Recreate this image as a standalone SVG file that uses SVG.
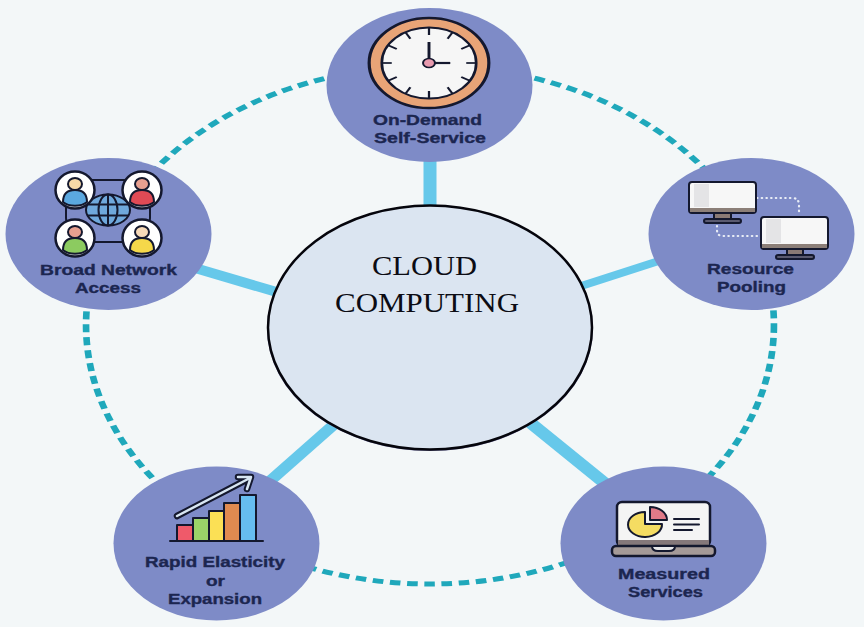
<svg xmlns="http://www.w3.org/2000/svg" width="864" height="627" viewBox="0 0 864 627">
<style>
.node{fill:#7e8bc7}
.lbl{font-family:"Liberation Sans",Arial,sans-serif;font-weight:700;font-size:14.5px;fill:#1c2650;stroke:#1c2650;stroke-width:.35px}
.ttl{font-family:"Liberation Serif","Times New Roman",serif;font-size:28px;fill:#0c0c14}
.ol{stroke:#14182e;stroke-width:2;stroke-linejoin:round;stroke-linecap:round}
.ln{fill:none;stroke:#14182e;stroke-width:2;stroke-linecap:round;stroke-linejoin:round}
.spoke{stroke:#66c8ea;fill:none}
.dots{fill:none;stroke:#e9edf6;stroke-width:2.2;stroke-linecap:round;stroke-dasharray:.5 4.2}
.scr{fill:#f7f7f7}
</style>
<defs>
<line id="tick" y1="-35" y2="-28" stroke="#14182e" stroke-width="1.7"/>
</defs>
<rect width="864" height="627" fill="#f3f7f8"/>
<g id="connectors">
<circle cx="0" cy="0" r="259" transform="translate(430 325) scale(1.328 1)" fill="none" stroke="#1fa8bb" stroke-width="5" stroke-dasharray="8 5"/>
<line class="spoke" x1="430" y1="150" x2="430" y2="215" stroke-width="13"/>
<line class="spoke" x1="195" y1="268" x2="280" y2="293" stroke-width="10"/>
<line class="spoke" x1="575" y1="288" x2="668" y2="258" stroke-width="8"/>
<line class="spoke" x1="262" y1="488" x2="338" y2="421" stroke-width="11"/>
<line class="spoke" x1="522" y1="416" x2="612" y2="489" stroke-width="12"/>
</g>
<g id="node-center">
<ellipse cx="430" cy="328.500" rx="163" ry="122.500" fill="#6f6f9f"/>
<ellipse cx="430" cy="327.500" rx="162" ry="122" fill="#dbe5f1" stroke="#05050c" stroke-width="2.500"/>
<text class="ttl" x="372" y="275" textLength="105" lengthAdjust="spacingAndGlyphs">CLOUD</text>
<text class="ttl" x="335" y="312" textLength="184" lengthAdjust="spacingAndGlyphs">COMPUTING</text>
</g>
<g id="node-on-demand">
<ellipse class="node" cx="429.500" cy="85" rx="103" ry="77"/>
<g transform="translate(429 63) scale(1.33 1)">
<circle r="45" fill="#e8a477" stroke="#14182e" stroke-width="2.400"/>
<circle r="35.500" fill="#f6f6f6" stroke="#14182e" stroke-width="2"/>
<use href="#tick"/><use href="#tick" transform="rotate(30)"/><use href="#tick" transform="rotate(60)"/><use href="#tick" transform="rotate(90)"/><use href="#tick" transform="rotate(120)"/><use href="#tick" transform="rotate(150)"/><use href="#tick" transform="rotate(180)"/><use href="#tick" transform="rotate(210)"/><use href="#tick" transform="rotate(240)"/><use href="#tick" transform="rotate(270)"/><use href="#tick" transform="rotate(300)"/><use href="#tick" transform="rotate(330)"/>
<line x1="0" y1="0" x2="0" y2="-21" stroke="#14182e" stroke-width="2.200"/>
<line x1="0" y1="0" x2="16" y2="0" stroke="#14182e" stroke-width="2.200"/>
<circle r="4.500" fill="#e89aae" stroke="#14182e" stroke-width="1.500"/>
</g>
<text class="lbl" x="373" y="125" textLength="109" lengthAdjust="spacingAndGlyphs">On-Demand</text>
<text class="lbl" x="374" y="143" textLength="112" lengthAdjust="spacingAndGlyphs">Self-Service</text>
</g>
<g id="node-broad-network">
<ellipse class="node" cx="108.500" cy="234" rx="103" ry="76"/>
<rect class="ln" x="66" y="180" width="84" height="62" rx="24"/>
<g transform="translate(108 210)">
<ellipse rx="22" ry="15.500" fill="#6fa8dc" stroke="#14182e" stroke-width="2"/>
<ellipse rx="9.500" ry="15.500" class="ln"/>
<path class="ln" d="M0-15.500V15.500M-20-5.500H20M-20 5.500H20"/>
</g>
<g transform="translate(75 190)"><ellipse rx="19.500" ry="18.500" fill="#fff" stroke="#14182e" stroke-width="2.500"/><ellipse cy="-6" rx="7" ry="6" fill="#f6d9a8" class="ol"/><path d="M-12 12C-12 3-7 0 0 0S12 3 12 12C6 17-6 17-12 12Z" fill="#5ba8e0" class="ol"/></g>
<g transform="translate(142 190)"><ellipse rx="19.500" ry="18.500" fill="#fff" stroke="#14182e" stroke-width="2.500"/><ellipse cy="-6" rx="7" ry="6" fill="#e8a090" class="ol"/><path d="M-12 12C-12 3-7 0 0 0S12 3 12 12C6 17-6 17-12 12Z" fill="#e04a55" class="ol"/></g>
<g transform="translate(75 238)"><ellipse rx="19.500" ry="18.500" fill="#fff" stroke="#14182e" stroke-width="2.500"/><ellipse cy="-6" rx="7" ry="6" fill="#e8a090" class="ol"/><path d="M-12 12C-12 3-7 0 0 0S12 3 12 12C6 17-6 17-12 12Z" fill="#8ccb60" class="ol"/></g>
<g transform="translate(142 238)"><ellipse rx="19.500" ry="18.500" fill="#fff" stroke="#14182e" stroke-width="2.500"/><ellipse cy="-6" rx="7" ry="6" fill="#f6d9b8" class="ol"/><path d="M-12 12C-12 3-7 0 0 0S12 3 12 12C6 17-6 17-12 12Z" fill="#f5d84a" class="ol"/></g>
<text class="lbl" x="40" y="275" textLength="137" lengthAdjust="spacingAndGlyphs">Broad Network</text>
<text class="lbl" x="75" y="293" textLength="66" lengthAdjust="spacingAndGlyphs">Access</text>
</g>
<g id="node-resource-pooling">
<ellipse class="node" cx="751.500" cy="234" rx="103" ry="76"/>
<path class="dots" d="M757 198H792Q799 198 799 205V215M717 226V230Q717 236 723 236H761"/>
<path d="M714 213H731V220H714Z" fill="#8a7a75" class="ol"/>
<rect x="704" y="219" width="37" height="4" rx="2" fill="#5a5a70" class="ol"/>
<rect class="scr ol" x="689" y="182" width="67" height="31" rx="3"/>
<rect x="694" y="184" width="15" height="23" fill="#e4e4e6"/>
<rect x="690" y="208" width="65" height="4" fill="#8c7f78"/>
<path d="M787 249H803V256H787Z" fill="#8a7a75" class="ol"/>
<rect x="776" y="255" width="38" height="4" rx="2" fill="#5a5a70" class="ol"/>
<rect class="scr ol" x="761" y="217" width="67" height="32" rx="3"/>
<rect x="766" y="219" width="15" height="24" fill="#e4e4e6"/>
<rect x="762" y="244" width="65" height="4" fill="#8c7f78"/>
<text class="lbl" x="707" y="274" textLength="87" lengthAdjust="spacingAndGlyphs">Resource</text>
<text class="lbl" x="717" y="292" textLength="69" lengthAdjust="spacingAndGlyphs">Pooling</text>
</g>
<g id="node-rapid-elasticity">
<ellipse class="node" cx="216.500" cy="543.500" rx="103" ry="77"/>
<rect class="ol" x="177" y="525" width="16" height="16" fill="#ef5a6a"/>
<rect class="ol" x="193" y="518" width="16" height="23" fill="#9bd468"/>
<rect class="ol" x="209" y="511" width="15" height="30" fill="#fbe055"/>
<rect class="ol" x="224" y="503" width="16" height="38" fill="#e08a50"/>
<rect class="ol" x="240" y="495" width="16" height="46" fill="#66bdf0"/>
<path class="ln" d="M170 541H263"/>
<path d="M177 516L250 478M238 477H251L247 489" fill="none" stroke="#14182e" stroke-width="6.500" stroke-linecap="round" stroke-linejoin="round"/>
<path d="M177 516L250 478M238 477H251L247 489" fill="none" stroke="#d8e6f2" stroke-width="2.500" stroke-linecap="round" stroke-linejoin="round"/>
<text class="lbl" x="145" y="567" textLength="140" lengthAdjust="spacingAndGlyphs">Rapid Elasticity</text>
<text class="lbl" x="206" y="586" textLength="19" lengthAdjust="spacingAndGlyphs">or</text>
<text class="lbl" x="168" y="604" textLength="94" lengthAdjust="spacingAndGlyphs">Expansion</text>
</g>
<g id="node-measured-services">
<ellipse class="node" cx="663.500" cy="543.500" rx="103" ry="77"/>
<rect x="617" y="502" width="93" height="44" rx="5" fill="#f4f4f4" stroke="#14182e" stroke-width="2.500"/>
<rect x="618" y="540" width="91" height="5" fill="#85787a"/>
<rect x="612" y="546" width="103" height="10" rx="4" fill="#a59a98" stroke="#14182e" stroke-width="2.500"/>
<path d="M652 546H675Q675 551 669 551H658Q652 551 652 546Z" fill="#e8e8ea" class="ol"/>
<path d="M645 512A17 12.500 0 1 0 662 524H645Z" fill="#f5dc62" class="ol"/>
<path d="M650 520V507A17 13 0 0 1 667 520Z" fill="#e07a88" class="ol"/>
<path class="ln" d="M674 519H699M674 524.500H699M674 530H692"/>
<text class="lbl" x="618" y="579" textLength="92" lengthAdjust="spacingAndGlyphs">Measured</text>
<text class="lbl" x="628" y="597" textLength="75" lengthAdjust="spacingAndGlyphs">Services</text>
</g>
</svg>
